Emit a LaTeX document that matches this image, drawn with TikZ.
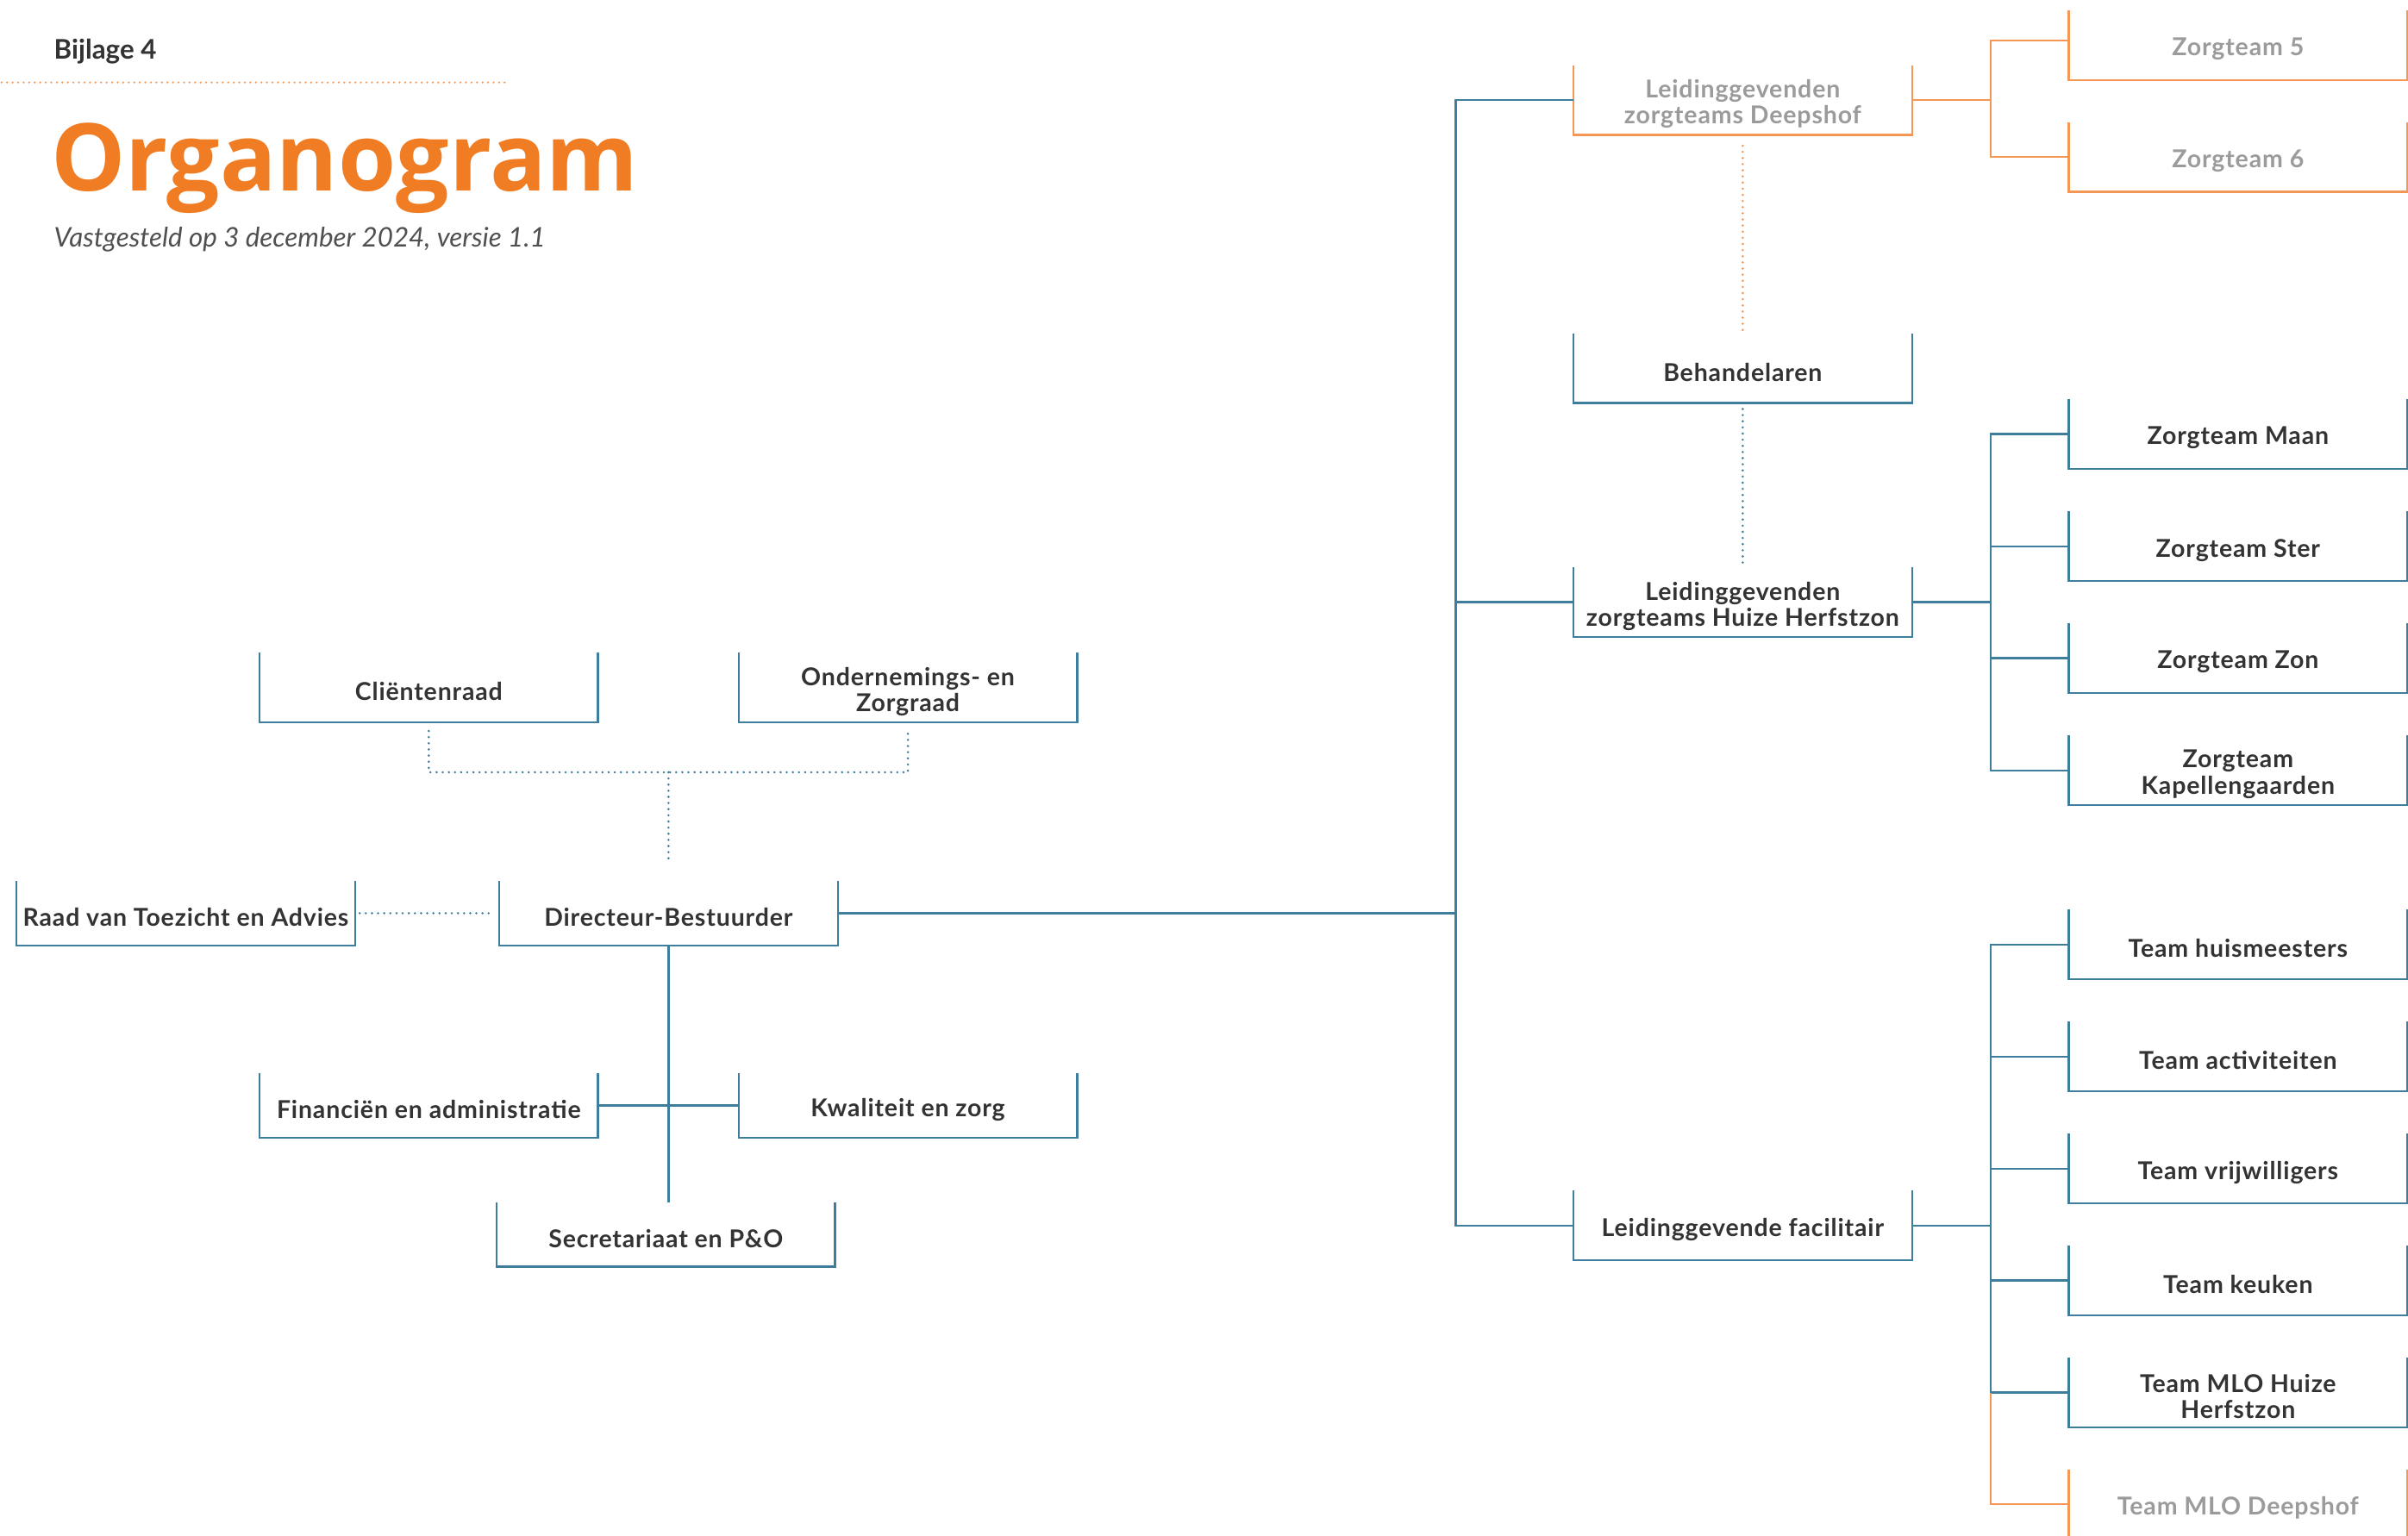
\documentclass[tikz,border=0pt]{standalone}
\usepackage{fontspec}
\setmainfont{Lato}
\newfontfamily\titlefont{Open Sans}
\newfontfamily\boxfont[LetterSpace=3]{Lato}
\definecolor{lineblue}{RGB}{62,126,156}
\definecolor{lineorange}{RGB}{244,150,84}
\definecolor{titleorange}{RGB}{240,125,35}
\definecolor{textdark}{RGB}{51,51,51}
\definecolor{textgray}{RGB}{155,155,155}
\definecolor{subgray}{RGB}{80,80,80}
\begin{document}
\begin{tikzpicture}[x=1pt,y=-1pt,
  ubox/.style={inner sep=0pt, minimum width=220pt, minimum height=45pt},
  lowbox/.style={ubox, minimum height=41.5pt},
  lbl/.style={inner sep=0pt, align=center, yshift=-2.6pt,
    font=\boxfont\bfseries\fontsize{16}{17}\selectfont, text=textdark},
  glbl/.style={lbl, text=textgray},
  bline/.style={draw=lineblue, line width=1.3pt},
  oline/.style={draw=lineorange, line width=1.3pt},
  bdot/.style={draw=lineblue, line width=1.6pt, dash pattern=on 0pt off 4pt, line cap=round},
  odot/.style={draw=lineorange, line width=1.6pt, dash pattern=on 0pt off 4pt, line cap=round}
]
\clip (0,0) rectangle (1568,1000);
\fill[white] (0,0) rectangle (1568,1000);

% header
\node[anchor=base west, inner sep=0pt, font=\bfseries\fontsize{17.6}{20}\selectfont, text=textdark] (bij) at (35,38.7) {Bijlage 4};
\coordinate (hl1) at (1,53.7);
\coordinate (hl2) at (331.4,53.7);
\draw[odot, line width=1.4pt, dash pattern=on 0pt off 3.6pt] (hl1) -- (hl2);
\node[anchor=base west, inner sep=0pt, font=\titlefont\bfseries\fontsize{61}{64}\selectfont, text=titleorange] (title) at (33,124.4) {Organogram};
\node[anchor=base west, inner sep=0pt, font=\itshape\fontsize{17.6}{20}\selectfont, text=subgray] (sub) at (35,161) {Vastgesteld op 3 december 2024, versie 1.1};

% left part
\node[ubox, label={[lbl]center:Cliëntenraad}] (clr) at (279.2,447.9) {};
\node[ubox, label={[lbl]center:{Ondernemings- en\\Zorgraad}}] (oz) at (591.2,447.9) {};
\node[lowbox, label={[lbl]center:Raad van Toezicht en Advies}] (raad) at (121,594.8) {};
\node[lowbox, label={[lbl]center:Directeur-Bestuurder}] (dir) at (435.3,594.8) {};
\node[lowbox, label={[lbl]center:Financiën en administratie}] (fin) at (279.2,720) {};
\node[lowbox, label={[lbl]center:Kwaliteit en zorg}] (kwal) at (591.2,720) {};
\node[lowbox, label={[lbl]center:Secretariaat en P\&O}] (sec) at (433.6,804) {};

% right part
\node[ubox, label={[glbl]center:{Leidinggevenden\\zorgteams Deepshof}}] (deep) at (1134.8,65.2) {};
\node[ubox, label={[lbl]center:Behandelaren}] (beh) at (1134.8,239.7) {};
\node[ubox, label={[lbl]center:{Leidinggevenden\\zorgteams Huize Herfstzon}}] (herf) at (1134.8,392.2) {};
\node[ubox, label={[lbl]center:Leidinggevende facilitair}] (fac) at (1134.8,798.2) {};

\node[ubox, label={[glbl]center:Zorgteam 5}] (z5) at (1457.3,29.5) {};
\node[ubox, label={[glbl]center:Zorgteam 6}] (z6) at (1457.3,102.3) {};
\node[ubox, label={[lbl]center:Zorgteam Maan}] (maan) at (1457.3,282.7) {};
\node[ubox, label={[lbl]center:Zorgteam Ster}] (ster) at (1457.3,355.8) {};
\node[ubox, label={[lbl]center:Zorgteam Zon}] (zon) at (1457.3,428.7) {};
\node[ubox, label={[lbl]center:{Zorgteam\\Kapellengaarden}}] (kap) at (1457.3,501.7) {};
\node[ubox, label={[lbl]center:Team huismeesters}] (huis) at (1457.3,615.2) {};
\node[ubox, label={[lbl]center:Team activiteiten}] (act) at (1457.3,688.2) {};
\node[ubox, label={[lbl]center:Team vrijwilligers}] (vrij) at (1457.3,761.1) {};
\node[ubox, label={[lbl]center:Team keuken}] (keu) at (1457.3,834) {};
\node[ubox, label={[lbl]center:{Team MLO Huize\\Herfstzon}}] (mloh) at (1457.3,907) {};
\node[ubox, label={[glbl]center:Team MLO Deepshof}] (mlod) at (1457.3,979.7) {};

% open-top boxes
\foreach \n in {clr,oz,raad,dir,fin,kwal,sec,beh,herf,fac,maan,ster,zon,kap,huis,act,vrij,keu,mloh}
  \draw[bline] (\n.north west) |- (\n.south east) -- (\n.north east);
\foreach \n in {deep,z5,z6,mlod}
  \draw[oline] (\n.north west) |- (\n.south east) -- (\n.north east);

% junction coordinates
\coordinate (trunk) at (948,594.8);
\coordinate (cj) at (435.3,503);
\coordinate (rj) at (1296.3,0);

% left connectors
\draw[bdot] ([yshift=-5.5pt]clr.south) |- (cj) -| ([yshift=-5.5pt]oz.south);
\draw[bdot] (cj) -- ([yshift=11pt]dir.north);
\draw[bdot] ([xshift=3pt]raad.east) -- ([xshift=-3pt]dir.west);
\draw[bline] (dir.south) -- (dir.south |- sec.north);
\draw[bline] (fin.east) -- (kwal.west);

% trunk
\draw[bline] (dir.east) -- (trunk);
\draw[bline] (deep.west) -| (trunk);
\draw[bline] (fac.west) -| (trunk);
\draw[bline] (herf.west) -- (herf.west -| trunk);

% vertical dotted
\draw[odot] ([yshift=-7pt]deep.south) -- (beh.north);
\draw[bdot] ([yshift=-4pt]beh.south) -- (herf.north);

% Deepshof teams
\draw[oline] (deep.east) -- (deep.east -| rj);
\draw[oline] ([yshift=3pt]z5.west) -- ([yshift=3pt]z5.west -| rj) -- (z6.west -| rj) -- (z6.west);

% Herfstzon teams
\draw[bline] (herf.east) -- (herf.east -| rj);
\draw[bline] (maan.west) -- (maan.west -| rj) -- (kap.west -| rj) -- (kap.west);
\draw[bline] (ster.west) -- (ster.west -| rj);
\draw[bline] (zon.west) -- (zon.west -| rj);

% facilitair teams
\draw[bline] (fac.east) -- (fac.east -| rj);
\draw[bline] (huis.west) -- (huis.west -| rj) -- (mloh.west -| rj) -- (mloh.west);
\draw[bline] (act.west) -- (act.west -| rj);
\draw[bline] (vrij.west) -- (vrij.west -| rj);
\draw[bline] (keu.west) -- (keu.west -| rj);
\draw[oline] (mloh.west -| rj) -- (mlod.west -| rj) -- (mlod.west);
\end{tikzpicture}
\end{document}
